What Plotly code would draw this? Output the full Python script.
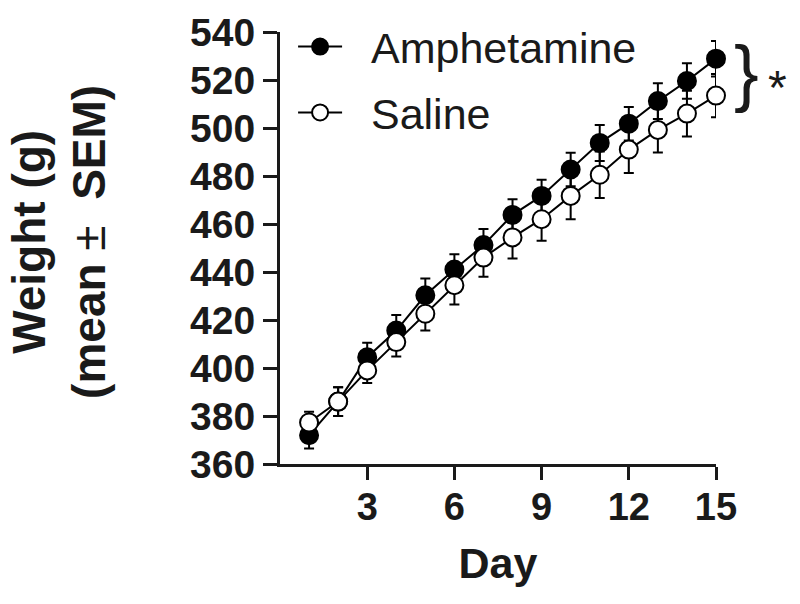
import plotly.graph_objects as go

days = list(range(1, 16))
amph_mean = [372, 386, 404.5, 415.6, 430.3, 441, 451.2, 463.8, 471.7, 482.7, 493.8, 501.8, 511.2, 519.6, 528.9]
amph_sem = [5.5, 6, 6, 6.5, 7, 6.4, 6.7, 6.5, 6.7, 7, 7.5, 7, 7.4, 7.4, 7.4]
sal_mean = [377.3, 386, 399, 410.8, 422.6, 434.5, 446, 454.4, 462, 471.7, 480.5, 491, 499.2, 506, 513.5]
sal_sem = [4.5, 6, 5.3, 6, 7, 8, 8, 8.8, 9, 9.7, 9.7, 9.8, 9.4, 9.5, 9]
x_ticks = [3, 6, 9, 12, 15]
series_names = ["Amphetamine", "Saline"]

FONT = "Liberation Sans, Arial, sans-serif"
INK = "#1a1a1a"
PAD = "\u00a0\u00a0"  # gap between legend symbol and label

fig = go.Figure()
fig.add_trace(go.Scatter(
    x=days, y=amph_mean, name=PAD + series_names[0], mode="lines+markers",
    line=dict(color="black", width=2),
    marker=dict(symbol="circle", size=18, color="black", line=dict(color="black", width=2)),
    error_y=dict(type="data", array=amph_sem, visible=True, color="black", thickness=2, width=5),
    cliponaxis=False, legendgroup="a",
))
fig.add_trace(go.Scatter(
    x=days, y=sal_mean, name=PAD + series_names[1], mode="lines+markers",
    line=dict(color="black", width=2),
    marker=dict(symbol="circle", size=18, color="white", line=dict(color="black", width=2)),
    error_y=dict(type="data", array=sal_sem, visible=True, color="black", thickness=2, width=5),
    cliponaxis=False, legendgroup="b",
))

fig.update_layout(
    width=800, height=604,
    paper_bgcolor="white", plot_bgcolor="white",
    margin=dict(l=272, r=92, t=24, b=148, autoexpand=False),
    font=dict(family=FONT, color=INK),
    showlegend=True,
    legend=dict(
        x=0.030, y=1.046, xanchor="left", yanchor="top",
        font=dict(family=FONT, size=43, color=INK),
        bgcolor="rgba(0,0,0,0)", tracegroupgap=7, itemwidth=44,
    ),
    xaxis=dict(
        range=[0, 15], tickvals=x_ticks, ticktext=[str(v) for v in x_ticks],
        showline=True, linecolor=INK, linewidth=3,
        ticks="outside", ticklen=13, tickwidth=3, tickcolor=INK,
        showgrid=False, zeroline=False, automargin=False,
        ticklabelstandoff=-6,
        tickfont=dict(family=FONT, size=38, color=INK, weight="bold"),
        title=dict(text="<b>Day</b>", font=dict(family=FONT, size=43, color=INK), standoff=22),
    ),
    yaxis=dict(
        range=[360, 540], dtick=20, tick0=360,
        showline=True, linecolor=INK, linewidth=3,
        ticks="outside", ticklen=14, tickwidth=3, tickcolor=INK,
        showgrid=False, zeroline=False, automargin=False,
        tickfont=dict(family=FONT, size=39, color=INK, weight="bold"),
    ),
    annotations=[
        dict(xref="paper", yref="paper", x=-0.507, y=0.514, textangle=-90,
             text="<b>Weight (g)</b><br><b>(mean </b>±<b>  SEM)</b>", showarrow=False,
             font=dict(family=FONT, size=46, color=INK), xanchor="center", yanchor="middle"),
        dict(xref="paper", yref="y", x=1.071, y=523, text="}", showarrow=False,
             font=dict(family=FONT, size=74, color=INK), xanchor="center", yanchor="middle"),
        dict(xref="paper", yref="y", x=1.14, y=517, text="*", showarrow=False,
             font=dict(family=FONT, size=48, color=INK), xanchor="center", yanchor="middle"),
    ],
)

fig.write_html("out.html")
